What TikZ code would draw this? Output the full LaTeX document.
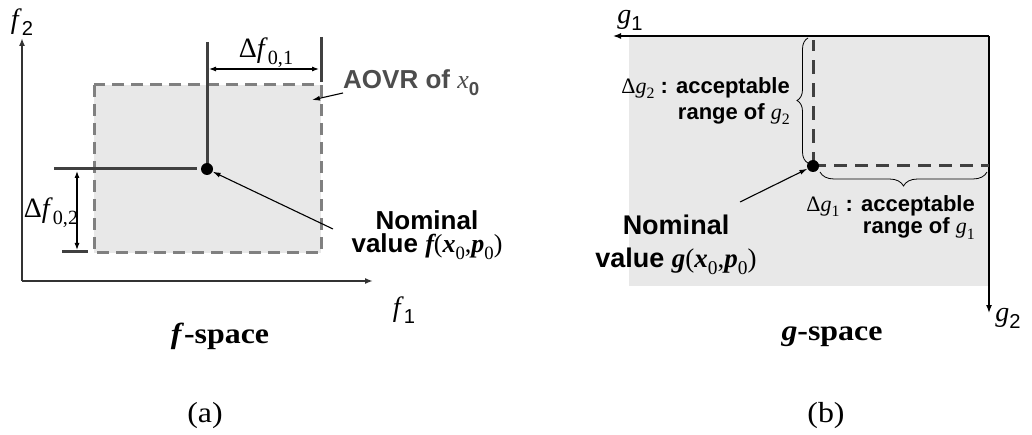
\documentclass[tikz,border=0pt]{standalone}
\usepackage{fontspec}
\setmainfont{Liberation Serif}
\setsansfont{Liberation Sans}
\usetikzlibrary{arrows.meta,decorations.pathreplacing}
\definecolor{boxfill}{HTML}{E8E8E8}
\definecolor{dashgray}{HTML}{808080}
\definecolor{darkline}{HTML}{404040}
\definecolor{axisc}{HTML}{333333}
\definecolor{labgray}{HTML}{4D4D4D}
\newcommand\lowr[1]{\raisebox{-0.25em}{\scalebox{0.72}{#1}}}
\newcommand\wideit[1]{\scalebox{1.1}[1]{#1}}
\begin{document}
\begin{tikzpicture}[x=1pt,y=-1pt,
  axisline/.style={draw=axisc, line width=1.6pt, -{Latex[length=8pt,width=6pt]}},
  dimarrow/.style={draw=black, line width=1.1pt, {Latex[length=7pt,width=5pt]}-{Latex[length=7pt,width=5pt]}},
  barline/.style={draw=darkline, line width=3pt},
  dashbox/.style={draw=dashgray, fill=boxfill, line width=3pt, dash pattern=on 12pt off 7pt},
  dashdark/.style={draw=darkline, line width=3pt, dash pattern=on 14pt off 9pt},
  dot/.style={circle, fill=black, minimum size=12pt, inner sep=0pt},
  pointer/.style={draw=black, line width=1.1pt, -{Latex[length=8pt,width=5pt]}},
  axlab/.style={font=\fontsize{28}{30}\selectfont, inner sep=0pt},
  dimlab/.style={font=\fontsize{28}{30}\selectfont, inner sep=0pt},
  nomtext/.style={font=\fontsize{26}{23}\selectfont\sffamily\bfseries, align=center, inner sep=0pt},
  rangetext/.style={font=\fontsize{22}{26}\selectfont\sffamily\bfseries, align=right, inner sep=0pt},
  captext/.style={font=\fontsize{29}{30}\selectfont, inner sep=0pt},
  bracestyle/.style={draw=black, line width=0.8pt, decorate}
]
\useasboundingbox (0,0) rectangle (1032,435);

% ---------------- panel (a) ----------------
\fill[white] (0,0) rectangle (1032,435);
\draw[dashbox] (94,85) rectangle (321,253);

\coordinate (origA) at (22,281);
\coordinate (f2tip) at (22,38);
\coordinate (f1tip) at (373,281);
\draw[axisline] (origA) -- (f2tip);
\draw[axisline] (origA) -- (f1tip);
\node[axlab] (f2lab) at (22,22) {\textit{f}\lowr{\sffamily 2}};
\node[axlab] (f1lab) at (404,310) {\textit{f}\lowr{\sffamily 1}};

\coordinate (pA) at (207,169);
\coordinate (vtopA) at (207,42);
\coordinate (hleftA) at (54,169);
\coordinate (hrightA) at (197,169);
\coordinate (rtop) at (321,37);
\coordinate (rbot) at (321,82);
\coordinate (sl) at (62,252);
\coordinate (sr) at (88,252);
\draw[barline] (vtopA) -- (pA);
\draw[barline] (hleftA) -- (hrightA);
\draw[barline] (rtop) -- (rbot);
\draw[barline] (sl) -- (sr);
\node[dot] (nomA) at (pA) {};

\coordinate (d1l) at (209,69);
\coordinate (d1r) at (319,69);
\draw[dimarrow] (d1l) -- (d1r);
\node[dimlab] (d1lab) at (266,53) {Δ\textit{f}\lowr{0,1}};
\coordinate (d2t) at (77,171);
\coordinate (d2b) at (77,250);
\draw[dimarrow] (d2t) -- (d2b);
\node[dimlab] (d2lab) at (51,213) {Δ\textit{f}\lowr{0,2}};

\node[font=\fontsize{26}{28}\selectfont\sffamily\bfseries, text=labgray, anchor=base west, inner sep=0pt]
  (aovr) at (343,89) {AOVR of {\rmfamily\mdseries\textit{x}}\lowr{0}};
\coordinate (aovrs) at (343,93);
\coordinate (aovre) at (312,100);
\draw[pointer] (aovrs) -- (aovre);

\node[nomtext] (nomtxtA) at (427,235) {Nominal\\value {\rmfamily\bfseries\itshape f}{\rmfamily\mdseries(\textbf{\textit{x}}\lowr{0},\textbf{\textit{p}}\lowr{0})}};
\coordinate (ptrA) at (333,229);
\draw[pointer] (ptrA) -- (nomA);

\node[captext] (fspace) at (220,336) {\wideit{\textbf{\textit{f}-space}}};
\node[captext] (capa) at (205,416) {\wideit{(a)}};

% ---------------- panel (b) ----------------
\fill[boxfill] (629,36) rectangle (989,286);
\coordinate (origB) at (989,36);
\coordinate (g1tip) at (613,36);
\coordinate (g2tip) at (989,313);
\draw[axisline, draw=black, line width=1.4pt] (origB) -- (g1tip);
\draw[axisline, draw=black, line width=1.4pt] (origB) -- (g2tip);
\node[axlab] (g1lab) at (630,20) {\textit{g}\lowr{\sffamily 1}};
\node[axlab] (g2lab) at (1008,318) {\textit{g}\lowr{\sffamily 2}};

\coordinate (pB) at (813,166);
\coordinate (vtopB) at (813,40);
\coordinate (hrB) at (989,166);
\draw[dashdark] (pB) -- (vtopB);
\draw[dashdark, dash pattern=on 13pt off 8pt] (pB) -- (hrB);
\node[dot] (nomB) at (pB) {};

\coordinate (lb1) at (808,163);
\coordinate (lb2) at (808,38);
\draw[bracestyle, decoration={brace, amplitude=11pt}] (lb1) -- (lb2);
\coordinate (bb1) at (820,172);
\coordinate (bb2) at (987,172);
\draw[bracestyle, decoration={brace, amplitude=14pt, mirror}] (bb1) -- (bb2);

\node[rangetext, anchor=north east] (r2) at (790,77) {{\rmfamily\mdseries Δ\textit{g}\lowr{2}} : acceptable\\range of {\rmfamily\mdseries\textit{g}\lowr{2}}};
\node[rangetext, font=\fontsize{22}{17}\selectfont\sffamily\bfseries, anchor=north east] (r1) at (975,195) {{\rmfamily\mdseries Δ\textit{g}\lowr{1}} : acceptable\\range of {\rmfamily\mdseries\textit{g}\lowr{1}}};

\node[nomtext, font=\fontsize{27}{33}\selectfont\sffamily\bfseries] (nomtxtB) at (676,245) {Nominal\\value {\rmfamily\bfseries\itshape g}{\rmfamily\mdseries(\textbf{\textit{x}}\lowr{0},\textbf{\textit{p}}\lowr{0})}};
\coordinate (ptrB) at (740,202);
\draw[pointer] (ptrB) -- (nomB);

\node[captext] (gspace) at (832,337) {\wideit{\textbf{\textit{g}-space}}};
\node[captext] (capb) at (826,416) {\wideit{(b)}};
\end{tikzpicture}
\end{document}
